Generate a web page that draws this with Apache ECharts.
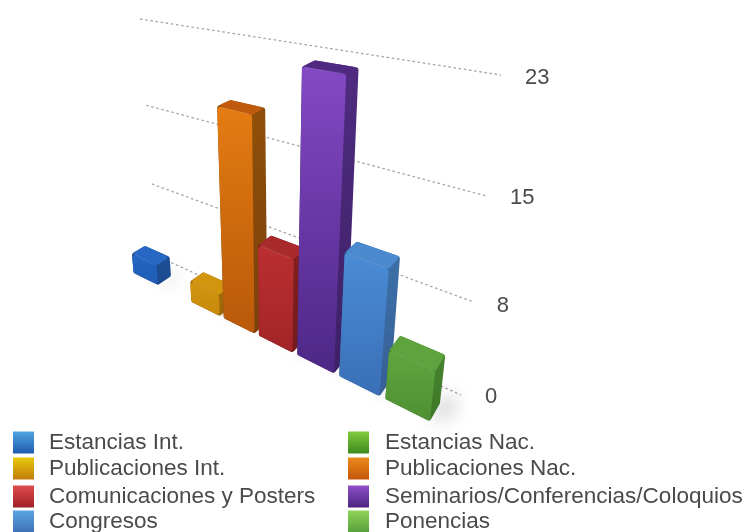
<!DOCTYPE html>
<html><head><meta charset="utf-8">
<style>html,body{margin:0;padding:0;background:#fff}#c{width:746px;height:532px}</style>
<script src="https://cdn.jsdelivr.net/npm/echarts@6/dist/echarts.min.js"></script>
</head><body><div id="c"></div>
<script>
const categories = ['Estancias Int.','Estancias Nac.','Publicaciones Int.','Publicaciones Nac.','Comunicaciones y Posters','Seminarios/Conferencias/Coloquios','Congresos','Ponencias'];
const values = [2,0,2,18,8,22,10,4];
const tickValues = [0,23/3,46/3,23];
const tickLabels = ['0','8','15','23'];
const axisMax = 23;

// colours: [legendTop, legendBottom, frontTop, frontBottom, sideTop, sideBottom, top]
const palette = [
 ['#4ea5e0','#1f5bb0','#2366c4','#1f5cb4','#1d4f9a','#1b4a8e','#2867c4'],
 ['#7fcb3e','#3e8a1e','#5aa53a','#4a8d2c','#3b7524','#3b7524','#62aa40'],
 ['#e8c80a','#c07c0a','#d29310','#c98a0c','#a86e08','#9c6608','#d2950f'],
 ['#ec8a1a','#c2550a','#e47c12','#b9590a','#90500a','#7c420a','#c05a0c'],
 ['#df4c4c','#a02025','#bb2f31','#a22527','#851f21','#741b1d','#a82a2c'],
 ['#8f50c8','#4a2480','#8349c4','#4e2787','#502c80','#3e2068','#4f2a80'],
 ['#5aa5e0','#3f70b8','#4a8cd6','#3a6fb6','#3d72aa','#365f95','#4c8ad0'],
 ['#92d45a','#55a03a','#5ea63e','#4f9033','#47862f','#3f7829','#5ea33e']
];

// perspective planes, corners: base-left, base-right, top-right, top-left
function homography(A,B,C,D){
  const dx1=B[0]-C[0],dx2=D[0]-C[0],sx=A[0]-B[0]+C[0]-D[0];
  const dy1=B[1]-C[1],dy2=D[1]-C[1],sy=A[1]-B[1]+C[1]-D[1];
  const den=dx1*dy2-dx2*dy1;
  const g=(sx*dy2-dx2*sy)/den,h=(dx1*sy-sx*dy1)/den;
  const a=B[0]-A[0]+g*B[0],b=D[0]-A[0]+h*D[0],c=A[0];
  const d=B[1]-A[1]+g*B[1],e=D[1]-A[1]+h*D[1],f=A[1];
  return (u,v)=>{const w=g*u+h*v+1;return [(a*u+b*v+c)/w,(d*u+e*v+f)/w];};
}
const frontPlane = homography([132,272],[433,423],[471,78],[110,20]);
const backPlane  = homography([145,264],[443,405],[481,70],[123,16]);
const wallPlane  = homography([157,256],[461,395],[501,75],[140,19]);

const grid = {left:0,top:0,width:746,height:532};
const BAR = 0.44;
function uv(p){return [(p[0]-grid.left)/grid.width,(grid.top+grid.height-p[1])/grid.height];}
function barCorners(api){
  const i=api.value(0);
  const bw=api.size([1,0])[0]*BAR;
  const topP=api.coord([i,api.value(1)]), baseP=api.coord([i,0]);
  const uL=uv([topP[0]-bw,0])[0], uR=uv([topP[0]+bw,0])[0];
  const vT=uv(topP)[1], vB=uv(baseP)[1];
  return {
    fBL:frontPlane(uL,vB),fBR:frontPlane(uR,vB),fTR:frontPlane(uR,vT),fTL:frontPlane(uL,vT),
    bBL:backPlane(uL,vB),bBR:backPlane(uR,vB),bTR:backPlane(uR,vT),bTL:backPlane(uL,vT)
  };
}
// true inward offset of a convex polygon, then a round-joined stroke gives rounded corners
function inset(points,r){
  const n=points.length;let area=0;
  points.forEach((p,i)=>{const q=points[(i+1)%n];area+=p[0]*q[1]-q[0]*p[1];});
  const s=area>0?1:-1;
  const lines=points.map((p,i)=>{
    const q=points[(i+1)%n];const dx=q[0]-p[0],dy=q[1]-p[1],l=Math.hypot(dx,dy)||1;
    const nx=-dy/l*s,ny=dx/l*s;
    return {x:p[0]+nx*r,y:p[1]+ny*r,dx,dy};
  });
  return lines.map((a,i)=>{
    const b=lines[(i+n-1)%n];
    const den=b.dx*a.dy-b.dy*a.dx;
    if(Math.abs(den)<1e-6) return [a.x,a.y];
    const t=((a.x-b.x)*a.dy-(a.y-b.y)*a.dx)/den;
    return [b.x+b.dx*t,b.y+b.dy*t];
  });
}
function face(points,fill,r){
  return {type:'polygon',shape:{points:inset(points,r)},style:{fill,stroke:fill,lineWidth:2*r,lineJoin:'round'}};
}
function vGrad(a,b){return {type:'linear',x:0,y:0,x2:0,y2:1,colorStops:[{offset:0,color:a},{offset:1,color:b}]};}

function renderBar(params,api){
  const idx=api.value(0), val=api.value(1);
  if(!val) return {type:'group',children:[]};
  const c=barCorners(api), p=palette[idx];
  return {type:'group',children:[
    face([c.fBL,c.fBR,c.bBR,c.bTR,c.bTL,c.fTL],vGrad(p[4],p[5]),2.5),
    face([c.fTL,c.fTR,c.bTR,c.bTL],p[6],2),
    face([c.fBL,c.fBR,c.fTR,c.fTL],vGrad(p[2],p[3]),2.5),
    {type:'polyline',shape:{points:[[c.fTL[0]+3,c.fTL[1]+1],[c.fTR[0]-3,c.fTR[1]-1]]},style:{stroke:'rgba(255,255,255,0.13)',lineWidth:1,fill:null}}
  ]};
}
function renderShadow(params,api){
  const val=api.value(1);
  if(!val) return {type:'group',children:[]};
  const c=barCorners(api);
  const reach=Math.min(val,6)*3.6;
  const pts=[c.fBR,c.bBR,[c.bBR[0]+reach,c.bBR[1]-reach*0.9],[c.fBR[0]+reach+10,c.fBR[1]-reach*0.5]];
  const off=2000;
  return {type:'polygon',x:-off,shape:{points:pts},
    style:{fill:'#000',shadowColor:'rgba(0,0,0,0.20)',shadowBlur:18,shadowOffsetX:off}};
}
const labelDrop=[2,4,2,3];
function renderGrid(params,api){
  const i=params.dataIndex;
  const v=uv(api.coord([0,api.value(1)]))[1];
  const a=wallPlane(0,v), b=wallPlane(1,v);
  return {type:'group',children:[
    {type:'line',shape:{x1:a[0],y1:a[1],x2:b[0],y2:b[1]},style:{stroke:'#a6a6a6',lineWidth:1.3,lineDash:[2.6,2.6]}},
    {type:'text',style:{x:b[0]+24,y:b[1]+labelDrop[i],text:tickLabels[i],fill:'#4a4a4a',font:'22px "Liberation Sans"',align:'left',verticalAlign:'middle'}}
  ]};
}

const rowTops=[431,457,485,510];
const colLefts=[13,348];
const textGaps=[10,11];
const legends=categories.map((name,i)=>({
  data:[name],orient:'horizontal',padding:0,selectedMode:false,
  left:colLefts[i%2],top:rowTops[Math.floor(i/2)],
  itemWidth:21,itemHeight:22,icon:'rect',
  itemStyle:{color:vGrad(palette[i][0],palette[i][1]),borderWidth:0},
  textStyle:{fontFamily:'"Liberation Sans"',fontSize:22.5,color:'#4a4a4a',padding:[4,0,0,textGaps[i%2]]}
}));

const series=[
  {type:'custom',name:'grid',silent:true,coordinateSystem:'cartesian2d',clip:false,renderItem:renderGrid,
   encode:{x:0,y:1},data:tickValues.map(v=>[0,v])},
  {type:'custom',name:'shadow',silent:true,coordinateSystem:'cartesian2d',clip:false,renderItem:renderShadow,
   encode:{x:0,y:1},data:values.map((v,i)=>[i,v])}
].concat(categories.map((name,i)=>({
  type:'custom',name,silent:true,coordinateSystem:'cartesian2d',clip:false,renderItem:renderBar,
  encode:{x:0,y:1},itemStyle:{color:palette[i][3]},data:[[i,values[i]]]
})));

const chart=echarts.init(document.getElementById('c'),null,{renderer:'canvas'});
chart.setOption({
  animation:false,backgroundColor:'#fff',
  grid:Object.assign({containLabel:false},grid),
  xAxis:{type:'category',data:categories,show:false},
  yAxis:{type:'value',min:0,max:axisMax,show:false,splitLine:{show:false}},
  legend:legends,
  series
});
</script></body></html>
